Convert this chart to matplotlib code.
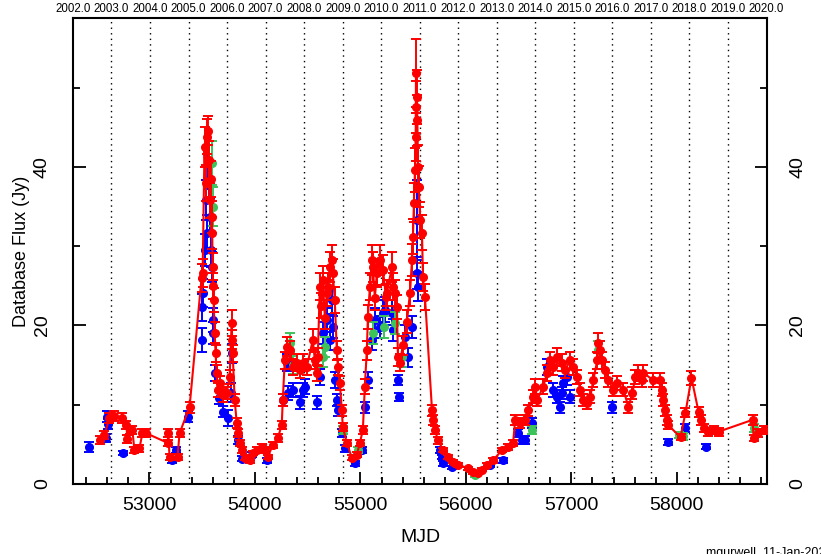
import matplotlib
matplotlib.use("Agg")
import matplotlib.pyplot as plt
from matplotlib.ticker import MultipleLocator, FixedLocator

plt.rcParams['font.family'] = ['Liberation Sans', 'DejaVu Sans']

# ---------------- data ----------------
red_mjd = [52535, 52573, 52620, 52667, 52744, 52781, 52791, 52820, 52838, 52857,
           52905, 52933, 52970, 53171, 53180, 53190, 53266, 53285, 53380, 53494,
           53504, 53522, 53532, 53541, 53551, 53561, 53570, 53580, 53589, 53594,
           53598, 53603, 53608, 53618, 53627, 53636, 53646, 53665, 53694, 53731,
           53760, 53779, 53784, 53789, 53808, 53827, 53836, 53855, 53874, 53903,
           53950, 53979, 54017, 54064, 54093, 54121, 54169, 54216, 54254, 54264,
           54283, 54302, 54330, 54359, 54397, 54425, 54454, 54492, 54549, 54568,
           54587, 54596, 54615, 54630, 54644, 54663, 54682, 54691, 54710, 54729,
           54738, 54757, 54776, 54786, 54805, 54824, 54833, 54871, 54919, 54966,
           54995, 55023, 55042, 55061, 55071, 55090, 55109, 55118, 55137, 55156,
           55185, 55214, 55242, 55251, 55299, 55308, 55327, 55346, 55356, 55375,
           55403, 55441, 55470, 55489, 55498, 55508, 55517, 55524, 55527, 55531,
           55536, 55540, 55546, 55555, 55565, 55584, 55593, 55612, 55679, 55688,
           55707, 55736, 55784, 55831, 55878, 55926, 56021, 56069, 56116, 56154,
           56201, 56258, 56344, 56401, 56448, 56467, 56515, 56562, 56591, 56638,
           56657, 56676, 56733, 56771, 56800, 56828, 56866, 56914, 56942, 56990,
           57018, 57056, 57085, 57113, 57151, 57180, 57208, 57246, 57256, 57275,
           57294, 57322, 57351, 57399, 57437, 57494, 57541, 57579, 57607, 57636,
           57674, 57683, 57778, 57845, 57864, 57873, 57892, 57911, 57921, 58035,
           58082, 58139, 58206, 58225, 58254, 58292, 58349, 58396, 58719, 58728,
           58766, 58823]
red_flux = [5.5, 6.2, 8.3, 8.6, 8.3, 7.4, 5.7, 6.8, 6.8, 4.3,
            4.5, 6.4, 6.4, 5.2, 6.4, 3.4, 3.4, 6.4, 9.7, 26.0,
            26.6, 42.5, 38.0, 43.8, 44.6, 40.9, 35.8, 38.5, 31.7, 33.7,
            27.4, 25.0, 23.2, 19.1, 16.5, 14.0, 11.9, 12.7, 11.2, 11.5,
            13.5, 20.3, 18.2, 16.5, 10.6, 7.7, 6.4, 5.2, 4.3, 3.3,
            3.0, 3.9, 4.3, 4.7, 4.3, 3.4, 4.9, 5.8, 7.4, 10.6,
            15.6, 17.3, 16.9, 14.8, 15.3, 14.4, 15.3, 14.8, 18.2, 15.6,
            14.0, 16.0, 24.9, 22.5, 25.7, 21.0, 24.1, 24.9, 27.4, 28.3,
            26.6, 23.2, 16.9, 14.8, 12.7, 9.3, 7.2, 5.2, 3.3, 3.7,
            5.2, 6.8, 12.3, 16.9, 21.1, 24.9, 28.3, 27.4, 23.5, 26.6,
            28.3, 27.0, 23.6, 24.1, 27.4, 24.9, 24.1, 22.3, 16.0, 15.3,
            17.5, 20.5, 24.1, 28.3, 31.2, 35.5, 39.6, 43.8, 51.9, 47.6,
            48.8, 45.9, 40.0, 37.5, 33.3, 31.7, 26.1, 23.6, 9.3, 8.1,
            6.8, 5.5, 4.3, 3.4, 2.8, 2.4, 2.0, 1.5, 1.4, 1.8,
            2.4, 3.0, 4.3, 4.7, 5.2, 8.1, 7.7, 8.1, 9.3, 11.0,
            12.3, 10.6, 12.3, 14.0, 15.6, 14.8, 16.0, 15.3, 14.4, 15.6,
            14.8, 13.5, 11.9, 10.6, 10.2, 11.0, 13.1, 15.6, 17.8, 16.9,
            15.6, 14.4, 13.1, 11.9, 12.7, 11.9, 9.7, 11.5, 13.5, 14.0,
            13.1, 14.0, 13.1, 13.1, 11.9, 10.6, 9.3, 8.1, 7.4, 5.9,
            9.0, 13.4, 9.1, 8.1, 7.1, 6.6, 6.8, 6.6, 8.1, 5.8,
            6.4, 6.8]
red_err = [0.5, 0.5, 0.6, 0.6, 0.6, 0.5, 0.5, 0.5, 0.5, 0.4,
           0.4, 0.5, 0.5, 0.4, 0.5, 0.4, 0.4, 0.5, 0.7, 1.8,
           1.8, 2.5, 2.3, 2.2, 1.8, 2.4, 2.2, 2.3, 2.0, 2.0,
           1.7, 1.6, 1.5, 1.3, 1.1, 1.0, 0.9, 0.9, 0.8, 0.8,
           0.9, 1.6, 1.2, 1.1, 0.8, 0.6, 0.5, 0.4, 0.4, 0.3,
           0.3, 0.3, 0.4, 0.4, 0.4, 0.3, 0.4, 0.5, 0.5, 0.8,
           1.1, 1.2, 1.2, 1.0, 1.1, 1.0, 1.1, 1.0, 1.3, 1.1,
           1.0, 1.1, 1.7, 1.6, 1.8, 1.5, 1.7, 1.7, 1.9, 1.9,
           1.8, 1.6, 1.2, 1.0, 0.9, 0.7, 0.5, 0.4, 0.3, 0.3,
           0.4, 0.5, 0.9, 1.2, 1.5, 1.7, 1.9, 1.9, 1.6, 1.8,
           1.9, 1.9, 1.6, 1.7, 1.9, 1.7, 1.7, 1.5, 1.1, 1.1,
           1.2, 1.4, 1.7, 2.0, 2.2, 2.5, 2.8, 3.0, 4.3, 3.3,
           3.4, 3.2, 2.8, 2.6, 2.3, 2.2, 1.8, 1.6, 0.7, 0.6,
           0.5, 0.4, 0.3, 0.3, 0.2, 0.2, 0.2, 0.2, 0.2, 0.2,
           0.2, 0.3, 0.3, 0.4, 0.4, 0.6, 0.6, 0.6, 0.7, 0.8,
           0.9, 0.8, 0.9, 1.0, 1.1, 1.0, 1.1, 1.1, 1.0, 1.1,
           1.0, 0.9, 0.8, 0.7, 0.7, 0.8, 0.9, 1.1, 1.3, 1.2,
           1.1, 1.0, 0.9, 0.8, 0.9, 0.8, 0.7, 0.8, 0.9, 1.0,
           0.9, 1.0, 0.9, 0.9, 0.8, 0.7, 0.7, 0.6, 0.5, 0.4,
           0.6, 0.9, 0.6, 0.6, 0.5, 0.5, 0.5, 0.5, 0.6, 0.4,
           0.5, 0.5]

blue_mjd = [52430, 52591, 52601, 52605, 52753, 53218, 53256, 53370, 53494, 53496,
            53504, 53522, 53532, 53541, 53551, 53561, 53570, 53580, 53589, 53598,
            53603, 53618, 53655, 53694, 53741, 53769, 53779, 53836, 53874, 53969,
            54111, 54264, 54302, 54311, 54359, 54425, 54454, 54473, 54587, 54615,
            54644, 54682, 54710, 54729, 54738, 54757, 54776, 54786, 54824, 54852,
            54947, 55014, 55042, 55071, 55109, 55137, 55185, 55214, 55233, 55299,
            55308, 55356, 55365, 55422, 55451, 55489, 55536, 55540, 55546, 55755,
            55774, 55784, 55869, 56230, 56353, 56496, 56534, 56562, 56629, 56771,
            56828, 56866, 56895, 56914, 56923, 56961, 56990, 57389, 57921, 58082,
            58272]
blue_flux = [4.7, 5.8, 8.5, 7.6, 3.9, 3.0, 4.3, 8.5, 18.2, 22.3,
             24.1, 29.5, 35.8, 31.7, 40.0, 38.0, 33.7, 29.5, 27.4, 20.7,
             19.1, 14.0, 10.9, 9.1, 8.3, 11.5, 16.5, 5.5, 3.2, 3.7,
             3.0, 10.6, 15.3, 11.5, 11.9, 10.3, 11.9, 12.3, 10.3, 13.5,
             19.1, 20.7, 18.2, 23.2, 19.8, 13.1, 10.6, 9.3, 6.4, 4.5,
             2.6, 4.3, 9.7, 13.1, 18.2, 20.7, 19.8, 21.6, 22.0, 21.6,
             19.4, 13.1, 11.0, 18.6, 16.0, 19.8, 33.3, 26.6, 24.9, 4.3,
             3.4, 2.6, 2.1, 2.4, 3.0, 6.4, 5.5, 5.5, 7.7, 14.8,
             11.9, 11.0, 9.7, 11.5, 12.7, 13.5, 11.0, 9.7, 5.3, 7.1,
             4.7]
blue_err = [0.6, 0.5, 0.7, 0.6, 0.3, 0.3, 0.4, 0.7, 1.5, 1.7,
            1.8, 2.0, 2.5, 2.2, 2.8, 2.6, 2.4, 2.1, 1.9, 1.5,
            1.4, 1.0, 0.8, 0.7, 1.0, 1.2, 1.2, 0.5, 0.3, 0.3,
            0.3, 0.8, 1.1, 0.9, 0.9, 0.8, 0.9, 0.9, 0.8, 1.0,
            1.4, 1.5, 1.3, 1.7, 1.4, 1.0, 0.8, 0.7, 0.5, 0.4,
            0.3, 0.4, 0.7, 1.0, 1.3, 1.5, 1.4, 1.6, 1.6, 1.6,
            1.4, 0.6, 0.5, 1.4, 1.2, 1.4, 5.0, 2.0, 1.8, 0.4,
            0.3, 0.3, 0.2, 0.2, 0.3, 0.5, 0.5, 0.5, 0.6, 1.0,
            0.9, 0.8, 0.7, 0.8, 0.9, 1.0, 0.8, 0.7, 0.4, 0.5,
            0.3]

green_mjd = [53589, 53598, 54330, 54359, 54644, 54663, 54833, 54976, 55118, 55223,
             55327, 55394, 56088, 56629, 57256, 58016, 58063, 58728]
green_flux = [40.5, 35.0, 17.8, 15.0, 16.0, 17.3, 6.8, 4.3, 19.1, 19.8,
              20.3, 16.0, 1.1, 6.8, 16.9, 6.2, 6.0, 7.1]
green_err = [2.8, 2.5, 1.2, 1.1, 1.2, 1.3, 0.5, 0.4, 1.4, 1.4,
             1.4, 1.2, 0.2, 0.5, 1.2, 0.4, 0.4, 0.5]

year_labels = ['2002.0', '2003.0', '2004.0', '2005.0', '2006.0', '2007.0', '2008.0',
               '2009.0', '2010.0', '2011.0', '2012.0', '2013.0', '2014.0', '2015.0',
               '2016.0', '2017.0', '2018.0', '2019.0', '2020.0']
year_mjd = [52275, 52640, 53005, 53371, 53736, 54101, 54466, 54832, 55197, 55562,
            55927, 56293, 56658, 57023, 57388, 57754, 58119, 58484, 58849]

# ---------------- figure ----------------
fig = plt.figure(figsize=(8.21, 5.54), dpi=100)
ax = fig.add_axes([73/821, 1-484/554, (767-73)/821, (484-18)/554])

for ym in year_mjd[1:-1]:
    ax.axvline(ym, color='black', linestyle=(0, (1, 3)), linewidth=1.0, zorder=0)

BLUE = '#0000ff'
GREEN = '#3cc35a'
RED = '#ff0000'
ekw = dict(fmt='o', markersize=5.5, elinewidth=1.4, capsize=3.5, capthick=1.4)

ax.errorbar(blue_mjd, blue_flux, yerr=blue_err, color=BLUE, zorder=2, **ekw)
ax.errorbar(green_mjd, green_flux, yerr=green_err, color=GREEN, zorder=3, **ekw)
ax.errorbar(red_mjd, red_flux, yerr=red_err, color=RED, zorder=4, **ekw)
ax.plot(red_mjd, red_flux, color=RED, linewidth=1.5, zorder=4)

ax.set_xlim(52275, 58855)
ax.set_ylim(0, 58.8)

ax.xaxis.set_major_locator(MultipleLocator(1000))
ax.xaxis.set_minor_locator(MultipleLocator(200))
ax.yaxis.set_major_locator(MultipleLocator(20))
ax.yaxis.set_minor_locator(MultipleLocator(10))

ax.tick_params(axis='both', which='both', direction='in', top=True, right=True,
               width=1.3, colors='black')
ax.tick_params(axis='both', which='major', length=9)
ax.tick_params(axis='both', which='minor', length=5)
ax.tick_params(axis='x', which='major', labelsize=14, pad=9)
ax.tick_params(axis='y', which='major', labelsize=14, labelrotation=90,
               labelleft=True, labelright=True, pad=16)
for t in ax.yaxis.get_major_ticks():
    t.label1.set_va('center')
    t.label2.set_rotation(90)
    t.label2.set_va('center')

for s in ax.spines.values():
    s.set_linewidth(1.5)

ax.set_xlabel('MJD', fontsize=14)
ax.xaxis.set_label_coords(0.5, -(537 - 484) / 466)
ax.xaxis.label.set_va('center')
ax.set_ylabel('Database Flux (Jy)', fontsize=13)
ax.yaxis.set_label_coords(-(73 - 22) / 694, 0.5)
ax.yaxis.label.set_va('center')

# top axis with year labels
ax2 = ax.twiny()
ax2.set_xlim(ax.get_xlim())
ax2.xaxis.set_major_locator(FixedLocator(year_mjd))
ax2.set_xticklabels(year_labels)
ax2.tick_params(axis='x', length=0, labelsize=8.3, pad=2.5)
ax2.tick_params(axis='x', which='minor', length=0)
for s in ax2.spines.values():
    s.set_visible(False)

fig.text(706/821, -5/554, 'mgurwell  11-Jan-2020 /', fontsize=9, ha='left', va='bottom')

fig.savefig('out.png', dpi=100)
